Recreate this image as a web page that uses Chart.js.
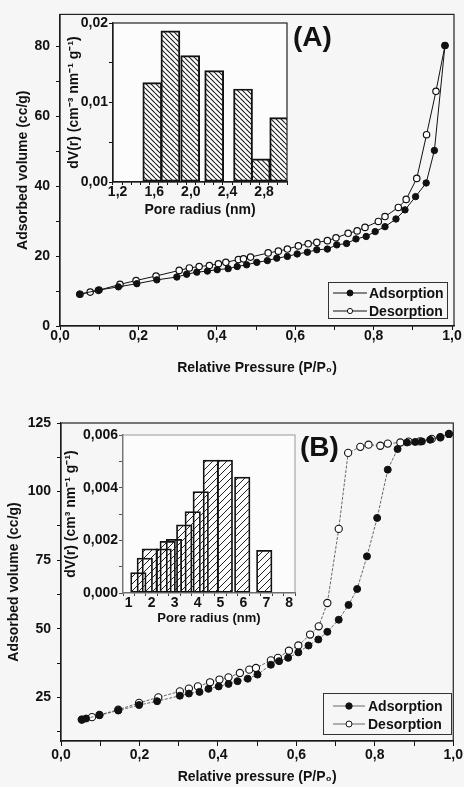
<!DOCTYPE html>
<html>
<head>
<meta charset="utf-8">
<script src="https://cdn.jsdelivr.net/npm/chart.js@4.4.0/dist/chart.umd.min.js"></script>
<style>
  html, body { margin: 0; padding: 0; background: #f6f6f6; }
  #page { position: relative; width: 464px; height: 787px; overflow: hidden; font-family: "Liberation Sans", Arial, sans-serif; }
  canvas { position: absolute; }
  .tag { position: absolute; font-weight: bold; font-size: 28px; line-height: 28px; color: #111; }
</style>
</head>
<body>
<div id="page">
  <canvas id="mainA" width="464" height="385" style="left:0px;top:0px"></canvas>
  <canvas id="insetA" width="245" height="212" style="left:55px;top:13px"></canvas>
  <canvas id="mainB" width="464" height="392" style="left:0px;top:395px"></canvas>
  <canvas id="insetB" width="250" height="207" style="left:55px;top:423px"></canvas>
  <div class="tag" style="left:293px;top:23px">(A)</div>
  <div class="tag" style="left:300px;top:433px">(B)</div>
</div>
<script>
// Panel A - N2 isotherm (relative pressure vs adsorbed volume, cc/g)
const pA_ads = [0.05, 0.10, 0.149, 0.196, 0.247, 0.298, 0.323, 0.349, 0.376, 0.401, 0.429, 0.452, 0.476, 0.502, 0.529, 0.553, 0.58, 0.605, 0.631, 0.655, 0.682, 0.706, 0.731, 0.755, 0.781, 0.804, 0.829, 0.857, 0.88, 0.907, 0.934, 0.955, 0.982];
const vA_ads = [9.1, 10.3, 11.2, 12.1, 13.2, 14.0, 14.8, 15.4, 15.7, 16.1, 16.4, 17.0, 17.5, 18.2, 18.7, 19.4, 19.9, 20.6, 21.1, 21.8, 22.0, 23.2, 23.6, 24.9, 25.6, 27.0, 28.4, 30.6, 33.2, 37.0, 40.9, 50.2, 80.2];
const pA_des = [0.051, 0.077, 0.098, 0.153, 0.194, 0.245, 0.304, 0.33, 0.355, 0.381, 0.404, 0.423, 0.455, 0.468, 0.486, 0.531, 0.557, 0.58, 0.608, 0.633, 0.655, 0.682, 0.704, 0.735, 0.758, 0.778, 0.812, 0.829, 0.863, 0.883, 0.91, 0.935, 0.959, 0.982];
const vA_des = [9.1, 9.7, 10.2, 11.9, 13.0, 14.3, 15.9, 16.6, 17.0, 17.3, 17.8, 18.2, 19.0, 19.2, 19.7, 20.9, 21.4, 22.0, 22.9, 23.5, 23.9, 24.4, 25.2, 26.5, 27.2, 28.2, 29.9, 31.3, 33.9, 36.2, 42.2, 54.7, 67.1, 80.2];

// Panel A inset - pore size distribution (bin centre in nm, dV)
const rA = [1.579, 1.777, 1.993, 2.255, 2.570, 2.763, 2.965];
const dvA = [0.0125, 0.0190, 0.0159, 0.0140, 0.0117, 0.0029, 0.0081];

// Panel B - isotherm
const pB_ads = [0.053, 0.064, 0.098, 0.146, 0.199, 0.245, 0.303, 0.326, 0.353, 0.376, 0.402, 0.427, 0.450, 0.476, 0.501, 0.535, 0.556, 0.579, 0.605, 0.631, 0.656, 0.679, 0.708, 0.733, 0.755, 0.780, 0.806, 0.833, 0.858, 0.882, 0.903, 0.920, 0.941, 0.967, 0.989];
const vB_ads = [16.9, 17.3, 18.5, 20.2, 22.2, 23.6, 25.6, 26.4, 27.0, 28.1, 29.0, 29.9, 30.9, 31.8, 33.3, 36.9, 38.2, 39.4, 41.4, 43.9, 46.1, 48.9, 53.3, 58.7, 64.5, 76.4, 90.4, 108.0, 115.5, 117.9, 118.1, 118.3, 118.9, 119.8, 121.0];
const pB_des = [0.053, 0.079, 0.098, 0.146, 0.199, 0.248, 0.303, 0.326, 0.349, 0.380, 0.404, 0.427, 0.456, 0.480, 0.497, 0.535, 0.553, 0.581, 0.605, 0.635, 0.657, 0.679, 0.708, 0.732, 0.763, 0.784, 0.814, 0.833, 0.865, 0.886, 0.915, 0.945, 0.967, 0.989];
const vB_des = [16.9, 17.8, 18.6, 20.5, 23.0, 25.0, 27.2, 28.2, 29.0, 30.5, 31.5, 32.3, 33.9, 35.1, 35.7, 38.5, 39.4, 42.0, 43.9, 47.9, 50.9, 59.4, 86.4, 114.1, 116.3, 117.1, 116.7, 117.5, 117.9, 118.2, 118.3, 119.2, 119.8, 121.0];

// Panel B inset - pore size distribution
const rB = [1.42, 1.70, 1.92, 2.52, 2.70, 2.97, 3.42, 3.79, 4.14, 4.58, 5.19, 5.95, 6.91];
const dvB = [0.00078, 0.00133, 0.00168, 0.00168, 0.00196, 0.00204, 0.00259, 0.00309, 0.00385, 0.00505, 0.00505, 0.00440, 0.00162];

// labelled ticks (the rest are minor ticks)
const pressTicks = [0, 0.2, 0.4, 0.6, 0.8, 1.0];
const volTicksA = [0, 20, 40, 60, 80];
const volTicksB = [25, 50, 75, 100, 125];
const radTicksA = [1.2, 1.6, 2.0, 2.4, 2.8];
const dvTicksA = [0, 0.01, 0.02];
const radTicksB = [1, 2, 3, 4, 5, 6, 7, 8];
const dvTicksB = [0, 0.002, 0.004, 0.006];

const fam = '"Liberation Sans", Arial, Helvetica, sans-serif';
const ink = '#111';
Chart.defaults.font.family = fam;

function bold(size) { return { family: fam, size: size, weight: 'bold' }; }
function has(list, v) { return list.some(t => Math.abs(t - v) < 1e-7); }
function comma(v, d) { return v.toFixed(d).replace('.', ','); }
function pts(xs, ys) { return xs.map((x, i) => ({ x: x, y: ys[i] })); }

// diagonal hatch used as bar fill
function hatch(dir, size, color, lw) {
  const c = document.createElement('canvas');
  c.width = size; c.height = size;
  const g = c.getContext('2d');
  g.strokeStyle = color;
  g.lineWidth = lw;
  g.beginPath();
  for (const o of [-size, 0, size]) {
    if (dir > 0) { g.moveTo(o, size); g.lineTo(o + size, 0); }
    else { g.moveTo(o, 0); g.lineTo(o + size, size); }
  }
  g.stroke();
  return g.createPattern(c, 'repeat');
}

// box around the plot area (+ optional fill)
const frame = {
  id: 'frame',
  beforeDraw(chart, args, o) {
    const a = chart.chartArea, ctx = chart.ctx;
    if (o.fill) {
      ctx.save();
      ctx.fillStyle = o.fill;
      ctx.fillRect(a.left, a.top, a.width, a.height);
      ctx.restore();
    }
  },
  afterDraw(chart, args, o) {
    const a = chart.chartArea, ctx = chart.ctx;
    ctx.save();
    ctx.strokeStyle = o.color;
    ctx.lineWidth = o.width;
    ctx.strokeRect(a.left, a.top, a.width, a.height);
    ctx.restore();
  }
};

// framed legend inside the plot
const boxLegend = {
  id: 'boxLegend',
  afterDraw(chart, args, o) {
    if (!o.rows) return;
    const ctx = chart.ctx;
    ctx.save();
    ctx.strokeStyle = '#333';
    ctx.lineWidth = 1;
    ctx.strokeRect(o.x + 0.5, o.y + 0.5, o.w, o.h);
    ctx.font = 'bold 14px ' + fam;
    ctx.textBaseline = 'middle';
    chart.data.datasets.forEach((ds, i) => {
      const y = o.rows[i];
      ctx.strokeStyle = ds.borderColor;
      ctx.lineWidth = ds.borderWidth;
      ctx.beginPath(); ctx.moveTo(o.line[0], y); ctx.lineTo(o.line[1], y); ctx.stroke();
      ctx.beginPath(); ctx.arc((o.line[0] + o.line[1]) / 2, y, o.r[i], 0, Math.PI * 2);
      ctx.fillStyle = ds.pointBackgroundColor; ctx.fill();
      ctx.strokeStyle = ds.pointBorderColor; ctx.lineWidth = 1; ctx.stroke();
      ctx.fillStyle = ink;
      ctx.fillText(ds.label, o.textX, y + 1);
    });
    ctx.restore();
  }
};

function axis(o) {
  return {
    type: 'linear', position: o.pos, min: o.min, max: o.max,
    afterFit: o.pos === 'left' ? s => { s.width = o.size; } : s => { s.height = o.size; },
    border: { color: o.line || ink, width: 1.2 },
    grid: { drawOnChartArea: false, tickLength: o.tick, tickColor: o.line || ink, tickWidth: 1 },
    ticks: {
      stepSize: o.step, includeBounds: false, autoSkip: false, maxRotation: 0,
      padding: o.pad, color: ink, font: bold(o.font || 14),
      callback: v => has(o.labels, v) ? comma(v, o.dec) : ''
    },
    title: { display: true, text: o.title, color: ink, font: bold(o.titleFont || 14), padding: { top: o.tpad, bottom: o.tpad } }
  };
}

function base(pad) {
  return {
    responsive: false, animation: false, devicePixelRatio: 1,
    layout: { padding: pad },
    plugins: { legend: { display: false }, tooltip: { enabled: false } }
  };
}

// ---------- Panel A main ----------
const optA = base({ top: 12, right: 10, left: 0, bottom: 0 });
optA.plugins.frame = { color: '#222', width: 1.2 };
optA.plugins.boxLegend = { x: 328, y: 282, w: 119, h: 36, rows: [293, 311], line: [333, 367], textX: 369, r: [3, 2.6] };
optA.scales = {
  x: axis({ pos: 'bottom', min: 0, max: 1.005, size: 59, tick: 4, pad: -2, step: 0.1, labels: pressTicks, dec: 1, title: 'Relative Pressure (P/P₀)', tpad: 8 }),
  y: axis({ pos: 'left', min: 0, max: 89.1, size: 60, tick: 4, pad: 6, step: 10, labels: volTicksA, dec: 0, title: 'Adsorbed volume (cc/g)', tpad: 15 })
};
new Chart(document.getElementById('mainA'), {
  type: 'line',
  data: {
    datasets: [
      { label: 'Adsorption', data: pts(pA_ads, vA_ads), borderColor: ink, borderWidth: 1, pointRadius: 3.2, pointBackgroundColor: ink, pointBorderColor: ink, pointBorderWidth: 1 },
      { label: 'Desorption', data: pts(pA_des, vA_des), borderColor: ink, borderWidth: 1, pointRadius: 3.2, pointBackgroundColor: '#fff', pointBorderColor: ink, pointBorderWidth: 1.2 }
    ]
  },
  options: optA,
  plugins: [frame, boxLegend]
});

// ---------- Panel A inset ----------
const optAi = base({ top: 10, right: 13, left: 0, bottom: 0 });
optAi.plugins.frame = { color: '#222', width: 1.2, fill: '#fcfcfc' };
optAi.scales = {
  x: axis({ pos: 'bottom', min: 1.2, max: 3.0, size: 43, tick: 3, pad: -1, step: 0.1, labels: radTicksA, dec: 1, title: 'Pore radius (nm)', tpad: 6 }),
  y: axis({ pos: 'left', min: 0, max: 0.02, size: 58, tick: 4, pad: 1, step: 0.005, labels: dvTicksA, dec: 2, title: 'dV(r) (cm⁻³ nm⁻¹ g⁻¹)', tpad: 11 })
};
new Chart(document.getElementById('insetA'), {
  type: 'bar',
  data: {
    datasets: [
      { label: 'dV(r)', data: pts(rA, dvA), backgroundColor: hatch(-1, 5, '#1a1a1a', 1.1), borderColor: ink, borderWidth: 1.3, borderSkipped: false, barThickness: 19, clip: 0 }
    ]
  },
  options: optAi,
  plugins: [frame]
});

// ---------- Panel B main ----------
const optB = base({ top: 28, right: 9, left: 0, bottom: 0 });
optB.plugins.frame = { color: '#222', width: 1.2 };
optB.plugins.boxLegend = { x: 323, y: 298, w: 128, h: 41, rows: [311, 329], line: [333, 365], textX: 368, r: [3.2, 3] };
optB.scales = {
  x: axis({ pos: 'bottom', min: 0, max: 1.0, size: 46, tick: 5, pad: 1, step: 0.1, labels: pressTicks, dec: 1, title: 'Relative pressure (P/P₀)', tpad: 1 }),
  y: axis({ pos: 'left', min: 9.1, max: 125, size: 61, tick: 4, pad: 6, step: 12.5, labels: volTicksB, dec: 0, title: 'Adsorbed volume (cc/g)', tpad: 6 })
};
new Chart(document.getElementById('mainB'), {
  type: 'line',
  data: {
    datasets: [
      { label: 'Adsorption', data: pts(pB_ads, vB_ads), borderColor: '#444', borderWidth: 0.8, borderDash: [3, 1.5], pointRadius: 3.5, pointBackgroundColor: ink, pointBorderColor: ink, pointBorderWidth: 1 },
      { label: 'Desorption', data: pts(pB_des, vB_des), borderColor: '#444', borderWidth: 0.8, borderDash: [3, 1.5], pointRadius: 3.6, pointBackgroundColor: '#fff', pointBorderColor: ink, pointBorderWidth: 1.1 }
    ]
  },
  options: optB,
  plugins: [frame, boxLegend]
});

// ---------- Panel B inset ----------
const optBi = base({ top: 12, right: 10, left: 0, bottom: 0 });
optBi.plugins.frame = { color: '#999', width: 1, fill: '#fcfcfc' };
optBi.scales = {
  x: axis({ pos: 'bottom', min: 1, max: 8, size: 37, tick: 3, pad: -1, step: 0.5, labels: radTicksB, dec: 0, title: 'Pore radius (nm)', titleFont: 13, tpad: 4, line: '#444' }),
  y: axis({ pos: 'left', min: 0, max: 0.006, size: 68, tick: 4, pad: 1, step: 0.001, labels: dvTicksB, dec: 3, title: 'dV(r) (cm³ nm⁻¹ g⁻¹)', tpad: 8, line: '#555' })
};
new Chart(document.getElementById('insetB'), {
  type: 'bar',
  data: {
    datasets: [
      { label: 'dV(r)', data: pts(rB, dvB), backgroundColor: hatch(1, 7, '#222', 1), borderColor: ink, borderWidth: 1.1, borderSkipped: false, barThickness: 15.5, clip: 0 }
    ]
  },
  options: optBi,
  plugins: [frame]
});
</script>
</body>
</html>
